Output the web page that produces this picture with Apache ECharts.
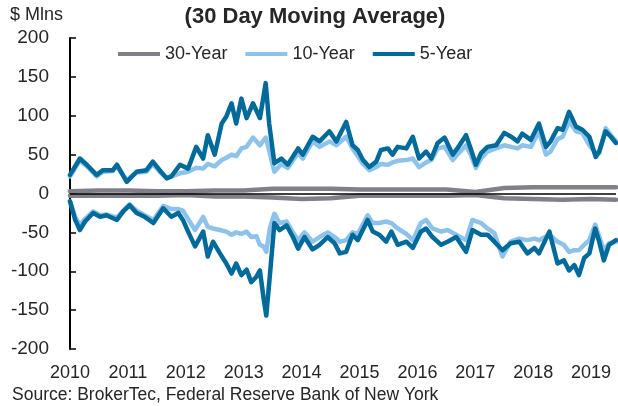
<!DOCTYPE html>
<html>
<head>
<meta charset="utf-8">
<script src="https://cdn.jsdelivr.net/npm/echarts@6/dist/echarts.min.js"></script>
<style>
html,body{margin:0;padding:0;background:#fff;}
#chart{width:618px;height:406px;}
</style>
</head>
<body>
<div id="chart"></div>
<script>
// ---- data (decimal years, $ millions) ----
var yearTicks = [2010, 2011, 2012, 2013, 2014, 2015, 2016, 2017, 2018, 2019];
var seriesNames = ['30-Year', '10-Year', '5-Year'];

var yearsPos = [2010.00,2010.17,2010.29,2010.46,2010.57,2010.74,2010.81,2010.98,
  2011.15,2011.32,2011.43,2011.55,2011.67,2011.75,2011.90,
  2012.04,2012.18,2012.30,2012.38,2012.50,2012.62,2012.70,2012.79,2012.87,2012.96,
  2013.05,2013.16,2013.28,2013.38,2013.44,2013.53,2013.65,2013.76,2013.94,
  2014.02,2014.19,2014.31,2014.48,2014.60,2014.77,2014.88,2014.97,
  2015.06,2015.17,2015.29,2015.37,2015.49,2015.57,2015.66,2015.81,2015.92,
  2016.03,2016.15,2016.24,2016.35,2016.47,2016.61,2016.69,2016.84,2016.92,
  2017.01,2017.10,2017.21,2017.36,2017.50,2017.62,2017.73,2017.81,2017.96,
  2018.10,2018.22,2018.30,2018.42,2018.51,2018.62,2018.74,2018.85,2018.97,
  2019.08,2019.14,2019.25,2019.34,2019.43];
var fiveYearPos = [24,45,37,24,30,30,37,15,
  28,30,41,30,19.5,22,37,
  32,60,45,75,50,90,99,116,90,122,
  97,116,97,142,90,39,45,37,58,
  50,73,67,80,67,92,62,56,
  43,34,41,56,58,50,60,58,73,
  45,54,45,65,72,50,58,75,58,
  37,52,60,62,78,73,67,77,69,
  90,60,67,84,82,105,86,82,73,
  47,54,80,73,65];
var tenYearPos = [22,42,35,22,28,29,35,17,
  27,28,38,28,20,22,26,
  28,33,32,38,35,43,46,50,48,58,
  60,72,62,72,55,28,38,33,52,
  45,67,60,67,62,73,58,48,
  38,30,34,38,37,40,42,43,45,
  34,40,43,58,60,43,50,62,50,
  33,45,54,58,62,60,58,62,60,
  80,50,54,70,73,93,80,78,62,
  52,52,84,75,67];

var yearsNeg = [2010.00,2010.09,2010.17,2010.26,2010.40,2010.52,2010.63,2010.81,2010.92,
  2011.03,2011.15,2011.29,2011.44,2011.61,2011.75,2011.87,2011.95,
  2012.04,2012.16,2012.30,2012.38,2012.47,2012.59,2012.70,2012.79,2012.87,2012.96,
  2013.05,2013.13,2013.22,2013.28,2013.34,2013.39,2013.45,2013.53,2013.62,2013.74,2013.85,2013.94,
  2014.05,2014.19,2014.31,2014.45,2014.57,2014.66,2014.77,2014.88,2014.97,
  2015.14,2015.23,2015.34,2015.46,2015.55,2015.66,2015.81,2015.92,
  2016.06,2016.15,2016.26,2016.41,2016.52,2016.67,2016.84,2016.95,
  2017.10,2017.21,2017.33,2017.47,2017.61,2017.76,2017.90,
  2018.02,2018.10,2018.28,2018.42,2018.53,2018.62,2018.71,2018.79,2018.88,2018.97,
  2019.07,2019.14,2019.22,2019.31,2019.43];
var fiveYearNeg = [-10,-34,-47,-36,-25,-30,-28,-34,-23,
  -15,-25,-30,-38,-19,-30,-25,-34,
  -49,-68,-49,-81,-62,-77,-90,-103,-90,-105,
  -98,-114,-107,-99,-133,-157,-107,-38,-47,-41,-56,-71,
  -56,-72,-66,-56,-64,-77,-75,-53,-60,
  -34,-49,-53,-62,-49,-66,-62,-70,
  -49,-45,-56,-66,-62,-56,-75,-47,
  -53,-53,-62,-73,-64,-62,-77,
  -70,-77,-49,-90,-86,-99,-92,-105,-83,-77,
  -45,-62,-86,-66,-60];
var tenYearNeg = [-10,-30,-40,-33,-23,-28,-27,-31,-22,
  -14,-22,-28,-34,-16,-20,-20,-22,
  -33,-47,-30,-43,-45,-47,-49,-53,-50,-52,
  -49,-56,-55,-66,-68,-75,-45,-26,-38,-36,-50,-60,
  -50,-62,-56,-50,-56,-62,-60,-50,-52,
  -28,-38,-38,-36,-38,-45,-52,-60,
  -38,-34,-45,-49,-47,-53,-60,-34,
  -38,-45,-51,-81,-62,-58,-60,
  -58,-60,-53,-62,-66,-75,-73,-73,-66,-60,
  -40,-55,-73,-64,-62];

var yearsThirty = [2010.0,2010.5,2011.0,2011.5,2012.0,2012.5,2013.0,2013.5,2014.0,2014.5,
  2015.0,2015.5,2016.0,2016.5,2017.0,2017.5,2018.0,2018.5,2019.0,2019.43];
var thirtyPos = [3,4,4,3,3,4,4,6,6,6,5,5,5,5,2,7,8,8,8,8];
var thirtyNeg = [-3,-3,-3,-3,-2,-4,-4,-5,-7,-6,-3,-3,-3,-3,-2,-6,-7,-8,-7,-8];

// ---- build ----
function pairs(xs, ys){ return xs.map(function(x,i){ return [x, ys[i]]; }); }
var FONT = '"Liberation Sans", Arial, sans-serif';
var TXT = '#262626';
var colors = {'30-Year':'#808088','10-Year':'#8DC3EA','5-Year':'#006A9B'};

function lineSeries(name, data, z){
  return {
    name: name, type: 'line', data: data, showSymbol: false, symbol: 'none',
    z: z, animation: false,
    lineStyle: {color: colors[name], width: 4.5, join: 'round', cap: 'round'},
    itemStyle: {color: colors[name]}
  };
}

var s30n = lineSeries('30-Year', pairs(yearsThirty, thirtyNeg), 3);
s30n.markLine = {
  silent: true, symbol: 'none', animation: false,
  label: {show: false},
  lineStyle: {color: '#000', width: 1.5, type: 'solid'},
  data: [{yAxis: 0}]
};

var chart = echarts.init(document.getElementById('chart'), null, {renderer: 'canvas'});
chart.setOption({
  animation: false,
  textStyle: {fontFamily: FONT},
  grid: {left: 70, top: 38, width: 546, height: 311, containLabel: false},
  legend: {
    left: 113, top: 40, itemGap: 18, itemWidth: 42, itemHeight: 4,
    icon: 'rect', data: seriesNames,
    textStyle: {fontFamily: FONT, fontSize: 18, color: TXT}
  },
  xAxis: {
    type: 'value', min: 2010, max: 2019.43, interval: 1,
    axisLine: {show: false}, axisTick: {show: false}, splitLine: {show: false},
    axisLabel: {
      fontFamily: FONT, fontSize: 18, color: TXT, margin: 15,
      showMaxLabel: false,
      formatter: function(v){ return yearTicks.indexOf(v) >= 0 ? String(v) : ''; }
    }
  },
  yAxis: {
    type: 'value', min: -200, max: 200, interval: 50,
    axisLine: {show: true, onZero: false, lineStyle: {color: '#000', width: 2}},
    axisTick: {show: true, inside: true, length: 6, lineStyle: {color: '#000', width: 1.5}},
    splitLine: {show: false},
    axisLabel: {fontFamily: FONT, fontSize: 19, color: TXT, margin: 21}
  },
  graphic: [
    {type: 'text', left: 10, top: 6, style: {text: '$ Mlns', font: '18px ' + FONT, fill: TXT}},
    {type: 'text', x: 315, y: 17, style: {text: '(30 Day Moving Average)', font: 'bold 22px ' + FONT, fill: TXT, textAlign: 'center', textVerticalAlign: 'middle'}},
    {type: 'text', left: 12, top: 386, style: {text: 'Source: BrokerTec, Federal Reserve Bank of New York', font: '17.5px ' + FONT, fill: TXT}}
  ],
  series: [
    lineSeries('10-Year', pairs(yearsPos, tenYearPos), 4),
    lineSeries('10-Year', pairs(yearsNeg, tenYearNeg), 4),
    lineSeries('5-Year', pairs(yearsPos, fiveYearPos), 5),
    lineSeries('5-Year', pairs(yearsNeg, fiveYearNeg), 5),
    lineSeries('30-Year', pairs(yearsThirty, thirtyPos), 3),
    s30n
  ]
});
</script>
</body>
</html>
